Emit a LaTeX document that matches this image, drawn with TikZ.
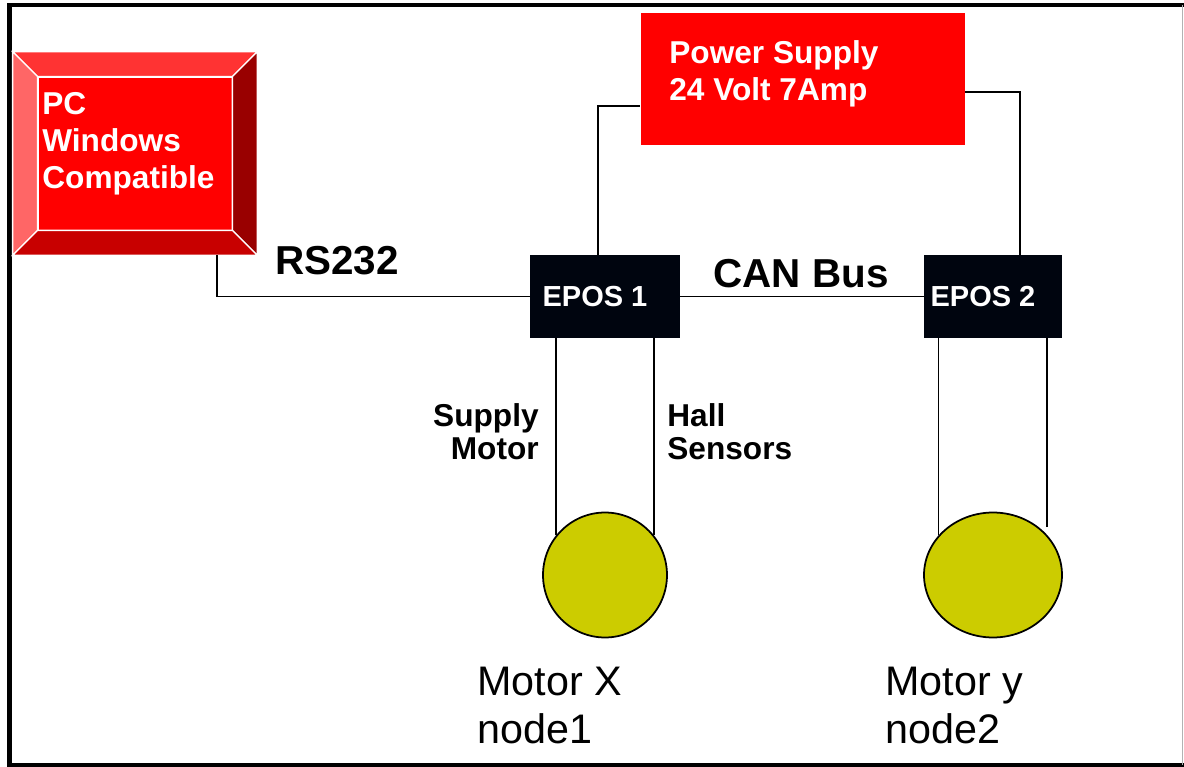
\documentclass[tikz,border=0pt]{standalone}
\usepackage{fontspec}
\setmainfont{Liberation Sans}
\definecolor{PanelRed}{HTML}{FF0000}
\definecolor{PanelRedTop}{HTML}{FF3333}
\definecolor{PanelRedLeft}{HTML}{FF6666}
\definecolor{PanelRedRight}{HTML}{990000}
\definecolor{PanelRedBottom}{HTML}{C80000}
\definecolor{EposNavy}{HTML}{00050F}
\definecolor{MotorOlive}{HTML}{CCCC00}
\usepackage{tikz}
\usetikzlibrary{shapes.geometric, calc}
\tikzset{
    redbox/.style={
        draw=white,
        fill=PanelRed,
        inner sep=0pt
    },
    bevel/.style={
        draw=white,
        line width=0.8pt,
        fill=#1
    },
    bevel/.default=PanelRed,
    eposbox/.style={
        fill=EposNavy,
        minimum height=1.66cm,
        text=white,
        font=\fontsize{16.5}{21}\selectfont\bfseries,
        execute at begin node={\hspace*{-0.4cm}},
        inner sep=0pt
    },
    motor/.style={
        ellipse,
        draw=black,
        line width=1pt,
        fill=MotorOlive,
        minimum height=2.5cm,
        inner sep=0pt
    },
    wire/.style={
        line width=1pt,
        black
    },
    redlabel/.style={
        text=white,
        font=\fontsize{18}{21}\selectfont\bfseries,
        align=left,
        inner sep=0pt
    },
    biglabel/.style={
        font=\fontsize{23}{27}\selectfont\bfseries,
        inner sep=0pt
    },
    smalllabel/.style={
        font=\fontsize{18}{19}\selectfont\bfseries,
        align=#1,
        inner sep=0pt
    },
    smalllabel/.default=left,
    motorlabel/.style={
        font=\fontsize{23.5}{27.3}\selectfont,
        align=left,
        inner sep=0pt
    }
}

\begin{document}
\begin{tikzpicture}[x=0.02cm, y=-0.02cm]
        \useasboundingbox (0,0) rectangle (1184,767);

        % Frame
        \draw[line width=2.3pt] (1184,5) -- (9.5,5) -- (9.5,765) -- (1184,765);
        \draw[black!30, line width=0.6pt] (1182.5,5) -- (1182.5,765);

        % PC
        \node[minimum width=4.88cm, minimum height=4.06cm, inner sep=0pt] (pc) at (135,153.5) {};
        \node[redbox, minimum width=3.88cm, minimum height=3.06cm] (pcface) at (pc.center) {};
        \filldraw[bevel=PanelRedTop] (pc.north west) -- (pc.north east) -- (pcface.north east) -- (pcface.north west) -- cycle;
        \filldraw[bevel=PanelRedLeft] (pc.north west) -- (pcface.north west) -- (pcface.south west) -- (pc.south west) -- cycle;
        \filldraw[bevel=PanelRedRight] (pc.north east) -- (pc.south east) -- (pcface.south east) -- (pcface.north east) -- cycle;
        \filldraw[bevel=PanelRedBottom] (pc.south west) -- (pc.south east) -- (pcface.south east) -- (pcface.south west) -- cycle;
        \node[redlabel, anchor=north west] (pctext) at (42,92) {PC\\Windows\\Compatible};

        % Power supply
        \node[redbox, minimum width=6.5cm, minimum height=2.66cm] (psu) at (802.5,78.5) {};
        \node[redlabel, anchor=north west] (psutext) at (669,40) {Power Supply\\24 Volt 7Amp};

        % Controllers
        \node[eposbox, minimum width=3cm] (epos1) at (605,296.5) {EPOS 1};
        \node[eposbox, minimum width=2.76cm] (epos2) at (993,296.5) {EPOS 2};

        % Motors
        \node[motor, minimum width=2.48cm] (motorx) at (605,575) {};
        \node[motor, minimum width=2.76cm] (motory) at (993,575) {};

        % RS232 link
        \draw[wire] ($(pc.south east)+(-40,0)$) |- (epos1.west);
        \node[biglabel, anchor=base] (rs) at (337,275) {RS232};

        % CAN bus
        \draw[wire] (epos1.east) -- (epos2.west);
        \node[biglabel, anchor=base] (can) at (801,287) {CAN Bus};

        % Power lines
        \draw[wire] ($(psu.west)+(0,27.5)$) -| ($(epos1.north)+(-7,0)$);
        \draw[wire] ($(psu.east)+(0,13.5)$) -| ($(epos2.north)+(27,0)$);

        % Motor leads
        \draw[wire] (motorx.141) -- (motorx.141 |- epos1.south);
        \draw[wire] (motorx.39) -- (motorx.39 |- epos1.south);
        \draw[wire] (motory.144) -- (motory.144 |- epos2.south);
        \coordinate (leadend) at (1047,527);
        \draw[wire] (leadend) -- (leadend |- epos2.south);

        % Lead labels
        \node[smalllabel=right, anchor=north east] (supply) at (539,403) {Supply\\Motor};
        \node[smalllabel, anchor=north west] (hall) at (667,403) {Hall\\Sensors};

        % Motor labels
        \node[motorlabel, anchor=north west] (mxlabel) at (477,667) {Motor X\\node1};
        \node[motorlabel, anchor=north west] (mylabel) at (885,667) {Motor y\\node2};
    \end{tikzpicture}
\end{document}
